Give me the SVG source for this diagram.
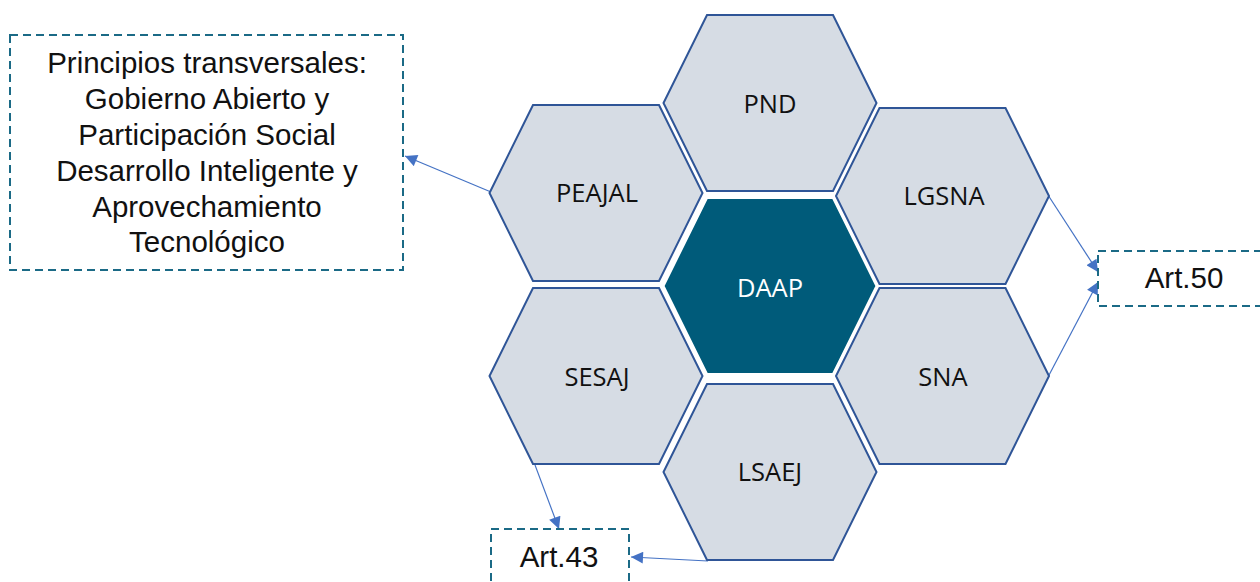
<svg xmlns="http://www.w3.org/2000/svg" width="1260" height="582" viewBox="0 0 1260 582">
<style>
.hex{fill:#D6DCE4;stroke:#2F5597;stroke-width:2}
.core{fill:#005B7A;stroke:#FFFFFF;stroke-width:2}
.hl{font-family:"Open Sans","Noto Sans",sans-serif;font-size:25.5px;fill:#111111;text-anchor:middle}
.hlw{fill:#FFFFFF}
.box{fill:#FFFFFF;stroke:#1B6A86;stroke-width:2;stroke-dasharray:8 5}
.bt{font-family:"Liberation Sans",Arial,sans-serif;font-size:29.5px;fill:#111111;text-anchor:middle}
.con{fill:none;stroke:#4472C4;stroke-width:1.2}
</style>
<defs>
<polygon id="hexshape" points="-63,-88 63,-88 106.5,0 63,88 -63,88 -106.5,0"/>
<marker id="arr" viewBox="0 0 10 10" refX="10" refY="5" markerWidth="14" markerHeight="12" markerUnits="userSpaceOnUse" orient="auto">
<path d="M0,0 L10,5 L0,10 Z" fill="#4472C4"/>
</marker>
</defs>
<rect width="1260" height="582" fill="#FFFFFF"/>
<g id="connectors">
<line class="con" x1="491" y1="192" x2="405" y2="156" marker-end="url(#arr)"/>
<line class="con" x1="1048" y1="195" x2="1098" y2="272" marker-end="url(#arr)"/>
<line class="con" x1="1048" y1="377" x2="1098" y2="282" marker-end="url(#arr)"/>
<line class="con" x1="535" y1="465" x2="559" y2="529" marker-end="url(#arr)"/>
<line class="con" x1="708" y1="561" x2="631" y2="557" marker-end="url(#arr)"/>
</g>
<g id="node-pnd">
<use href="#hexshape" class="hex" transform="translate(770,103)"/>
<text class="hl" x="770" y="113">PND</text>
</g>
<g id="node-peajal">
<use href="#hexshape" class="hex" transform="translate(596,193)"/>
<text class="hl" x="597" y="202">PEAJAL</text>
</g>
<g id="node-lgsna">
<use href="#hexshape" class="hex" transform="translate(942.5,196)"/>
<text class="hl" x="944" y="205">LGSNA</text>
</g>
<g id="node-daap">
<use href="#hexshape" class="core" transform="translate(770,286)"/>
<text class="hl hlw" x="770" y="297">DAAP</text>
</g>
<g id="node-sesaj">
<use href="#hexshape" class="hex" transform="translate(596,376)"/>
<text class="hl" x="597" y="386">SESAJ</text>
</g>
<g id="node-sna">
<use href="#hexshape" class="hex" transform="translate(942.5,376)"/>
<text class="hl" x="943" y="386">SNA</text>
</g>
<g id="node-lsaej">
<use href="#hexshape" class="hex" transform="translate(770,472)"/>
<text class="hl" x="770" y="481">LSAEJ</text>
</g>
<g id="node-principios">
<rect class="box" x="10" y="35" width="393" height="235"/>
<text class="bt" x="207" y="73">Principios transversales:</text>
<text class="bt" x="207" y="109">Gobierno Abierto y</text>
<text class="bt" x="207" y="145">Participación Social</text>
<text class="bt" x="207" y="181">Desarrollo Inteligente y</text>
<text class="bt" x="207" y="217">Aprovechamiento</text>
<text class="bt" x="207" y="252">Tecnológico</text>
</g>
<g id="node-art50">
<rect class="box" x="1098" y="251" width="172" height="55"/>
<text class="bt" x="1184" y="288">Art.50</text>
</g>
<g id="node-art43">
<rect class="box" x="491" y="529" width="138" height="70"/>
<text class="bt" x="559" y="567">Art.43</text>
</g>
</svg>
